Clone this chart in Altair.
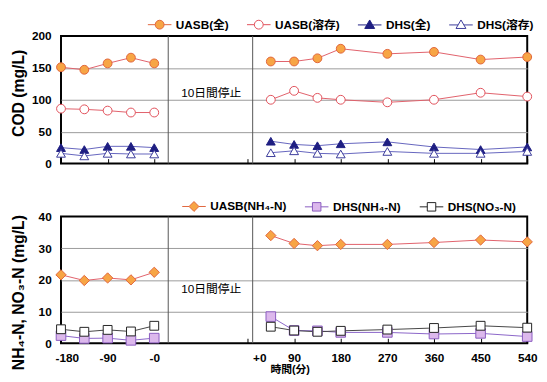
import altair as alt
import pandas as pd

# ---------------- data ----------------
times_left = [-180, -135, -90, -45, 0]
times_right = [45, 90, 135, 180, 270, 360, 450, 540]
gap_shift = 180  # axis room used for the 10-day stop

cod_series = ["UASB(全)", "UASB(溶存)", "DHS(全)", "DHS(溶存)"]
cod_left = {
    "UASB(全)": [151, 147, 157, 166, 157],
    "UASB(溶存)": [86, 85, 83, 80, 80],
    "DHS(全)": [25, 22, 27, 27, 25],
    "DHS(溶存)": [16, 12, 16, 15, 15],
}
cod_right = {
    "UASB(全)": [160, 160, 165, 180, 172, 175, 163, 167],
    "UASB(溶存)": [100, 114, 103, 100, 96, 100, 111, 105],
    "DHS(全)": [35, 30, 28, 31, 34, 26, 22, 26],
    "DHS(溶存)": [17, 20, 16, 15, 19, 16, 16, 19],
}

n_series = ["UASB(NH₄-N)", "DHS(NH₄-N)", "DHS(NO₃-N)"]
n_left = {
    "UASB(NH₄-N)": [21.6, 19.8, 20.6, 20.0, 22.4],
    "DHS(NH₄-N)": [2.4, 1.5, 1.6, 0.9, 1.6],
    "DHS(NO₃-N)": [4.4, 3.6, 4.2, 3.7, 5.5],
}
n_right = {
    "UASB(NH₄-N)": [34.0, 31.5, 30.8, 31.2, 31.2, 31.8, 32.6, 32.0],
    "DHS(NH₄-N)": [8.4, 4.0, 3.9, 3.4, 3.4, 2.9, 3.1, 2.1],
    "DHS(NO₃-N)": [5.2, 4.0, 3.6, 3.9, 4.3, 4.8, 5.5, 4.9],
}

x_ticks = [-180, -90, 0, 180, 270, 360, 450, 540, 630, 720]
x_tick_labels = ["-180", "-90", "-0", "+0", "90", "180", "270", "360", "450", "540"]
dividers = [27, 190]
note_text = "10日間停止"
note_pos = 110
cod_note_y = 111
n_note_y = 17

cod_ticks = [0, 50, 100, 150, 200]
n_ticks = [0, 10, 20, 30, 40]

# ---------------- styles ----------------
FONT = "Liberation Sans, Noto Sans CJK JP, sans-serif"

cod_line_colors = ["#E0606A", "#E0606A", "#6464BE", "#6464BE"]
cod_fill = ["#F7A545", "#FFFFFF", "#1E1E82", "#FFFFFF"]
cod_stroke = ["#E0653C", "#E0505A", "#1E1E82", "#3A3A9A"]
cod_shapes = ["circle", "circle", "triangle-up", "triangle-up"]
cod_sizes = [81, 81, 100, 100]

n_line_colors = ["#E0606A", "#8A64C8", "#444444"]
n_fill = ["#F7A545", "#DCB8EC", "#FFFFFF"]
n_stroke = ["#E0653C", "#8A5CC0", "#222222"]
n_shapes = ["diamond", "square", "square"]
n_sizes = [110, 81, 81]

P_CIRCLE = "M-1,0L-0.375,0M0.375,0L1,0M-0.375,0A0.375,0.375,0,1,1,0.375,0A0.375,0.375,0,1,1,-0.375,0Z"
P_TRI = "M-1,0L-0.245,0M0.245,0L1,0M0,-0.42L0.42,0.3L-0.42,0.3Z"
P_DIAM = "M-1,0L-0.42,0M0.42,0L1,0M0,-0.42L0.42,0L0,0.42L-0.42,0Z"
P_SQ = "M-1,0L-0.36,0M0.36,0L1,0M-0.36,-0.36L0.36,-0.36L0.36,0.36L-0.36,0.36Z"
cod_leg_shapes = [P_CIRCLE, P_CIRCLE, P_TRI, P_TRI]
n_leg_shapes = [P_DIAM, P_SQ, P_SQ]


def long_frame(series, left, right, field):
    rows = []
    for s in series:
        for t, v in zip(times_left, left[s]):
            rows.append({"t": t, "pos": t, "seg": "L", field: s, "value": v})
        for t, v in zip(times_right, right[s]):
            rows.append({"t": t, "pos": t + gap_shift, "seg": "R", field: s, "value": v})
    return pd.DataFrame(rows)


label_expr = " : ".join(
    f"datum.value == {p} ? '{l}'" for p, l in zip(x_ticks, x_tick_labels)
) + " : ''"


def panel(df, series, field, line_colors, fills, strokes, shapes, sizes, leg_shapes,
          y_ticks, y_title, title_y, leg_x, leg_y, note_y, height, show_labels):
    ymax = y_ticks[-1]
    x_axis = alt.Axis(
        values=x_ticks,
        labels=show_labels,
        labelExpr=label_expr,
        labelFlush=False,
        labelOffset={
            "condition": [
                {"test": "datum.value == 180", "value": 12},
                {"test": "datum.value == -180", "value": 6},
            ],
            "value": 0,
        },
        labelFontSize=12,
        labelFontWeight="bold",
        labelColor="black",
        labelPadding=10,
        domain=False,
        ticks=True,
        tickSize=5,
        tickColor="black",
        tickWidth=1,
        offset=-5,
        grid=False,
        title="時間(分)" if show_labels else None,
        titleFontSize=11,
        titleFontWeight="bold",
        titleColor="black",
        titleX=233,
        titlePadding=0,
    )
    y_axis = alt.Axis(
        values=y_ticks,
        domain=False,
        ticks=False,
        grid=True,
        gridColor="#9A9A9A",
        gridWidth=1,
        gridOpacity={
            "condition": {"test": f"datum.value == 0 || datum.value == {ymax}", "value": 0},
            "value": 1,
        },
        labelFontSize=12,
        labelFontWeight="bold",
        labelColor="black",
        labelPadding=10,
        title=y_title,
        titleFontSize=16,
        titleFontWeight="bold",
        titleColor="black",
        titleX=-43,
        titleY=title_y,
        titleBaseline="middle",
    )
    X = alt.X("pos:Q", scale=alt.Scale(domain=[-180, 720], nice=False, zero=False), axis=x_axis)
    Y = alt.Y("value:Q", scale=alt.Scale(domain=[0, ymax], nice=False), axis=y_axis)

    rules = alt.Chart(pd.DataFrame({"pos": dividers})).mark_rule(
        color="#555555", strokeWidth=1
    ).encode(x=X)

    note = alt.Chart(pd.DataFrame({"pos": [note_pos], "value": [note_y], "label": [note_text]})).mark_text(
        fontSize=12, color="black", font=FONT
    ).encode(x=X, y=Y, text="label:N")

    base = alt.Chart(df)
    lines = base.mark_line(strokeWidth=1).encode(
        x=X, y=Y,
        color=alt.Color(f"{field}:N", scale=alt.Scale(domain=series, range=line_colors), legend=None),
        detail="seg:N",
        order="pos:Q",
    )
    points = base.mark_point(filled=True, opacity=1, strokeWidth=1).encode(
        x=X, y=Y,
        shape=alt.Shape(f"{field}:N", scale=alt.Scale(domain=series, range=shapes), legend=None),
        fill=alt.Fill(f"{field}:N", scale=alt.Scale(domain=series, range=fills), legend=None),
        stroke=alt.Stroke(f"{field}:N", scale=alt.Scale(domain=series, range=strokes), legend=None),
        size=alt.Size(f"{field}:N", scale=alt.Scale(domain=series, range=sizes), legend=None),
    )
    leg = alt.Legend(
        orient="none", legendX=leg_x, legendY=leg_y, direction="horizontal", title=None,
        symbolSize=576, symbolStrokeWidth=1, labelFontSize=12, labelFontWeight="bold",
        labelColor="black", labelOffset=4, columnPadding=16, padding=0, labelFont=FONT,
    )
    legend_layer = base.mark_point(filled=True, opacity=1, strokeWidth=1).encode(
        x=X, y=Y,
        shape=alt.Shape(f"{field}:N", scale=alt.Scale(domain=series, range=leg_shapes), legend=leg),
        fill=alt.Fill(f"{field}:N", scale=alt.Scale(domain=series, range=fills), legend=leg),
        stroke=alt.Stroke(f"{field}:N", scale=alt.Scale(domain=series, range=strokes), legend=leg),
    ).transform_filter("false")

    return alt.layer(rules, lines, points, note, legend_layer).resolve_scale(
        color="independent", fill="independent", stroke="independent",
        shape="independent", size="independent",
    ).properties(width=475, height=height)


cod_df = long_frame(cod_series, cod_left, cod_right, "cod_series")
n_df = long_frame(n_series, n_left, n_right, "n_series")

top = panel(cod_df, cod_series, "cod_series", cod_line_colors, cod_fill, cod_stroke, cod_shapes,
            cod_sizes, cod_leg_shapes, cod_ticks, "COD (mg/L)", 58, 88, -24, cod_note_y, 130, False)
bottom = panel(n_df, n_series, "n_series", n_line_colors, n_fill, n_stroke, n_shapes,
               n_sizes, n_leg_shapes, n_ticks, "NH₄-N, NO₃-N (mg/L)", 77, 123, -23, n_note_y, 129, True)

chart = alt.vconcat(top, bottom, spacing=23).resolve_scale(
    color="independent", fill="independent", stroke="independent",
    shape="independent", size="independent",
).properties(
    padding={"left": 1, "top": 0, "right": 0, "bottom": 0}
).configure(
    font=FONT
).configure_view(
    stroke="black", strokeWidth=2
)

chart.save("out.html", embed_options={"renderer": "svg", "actions": False})
